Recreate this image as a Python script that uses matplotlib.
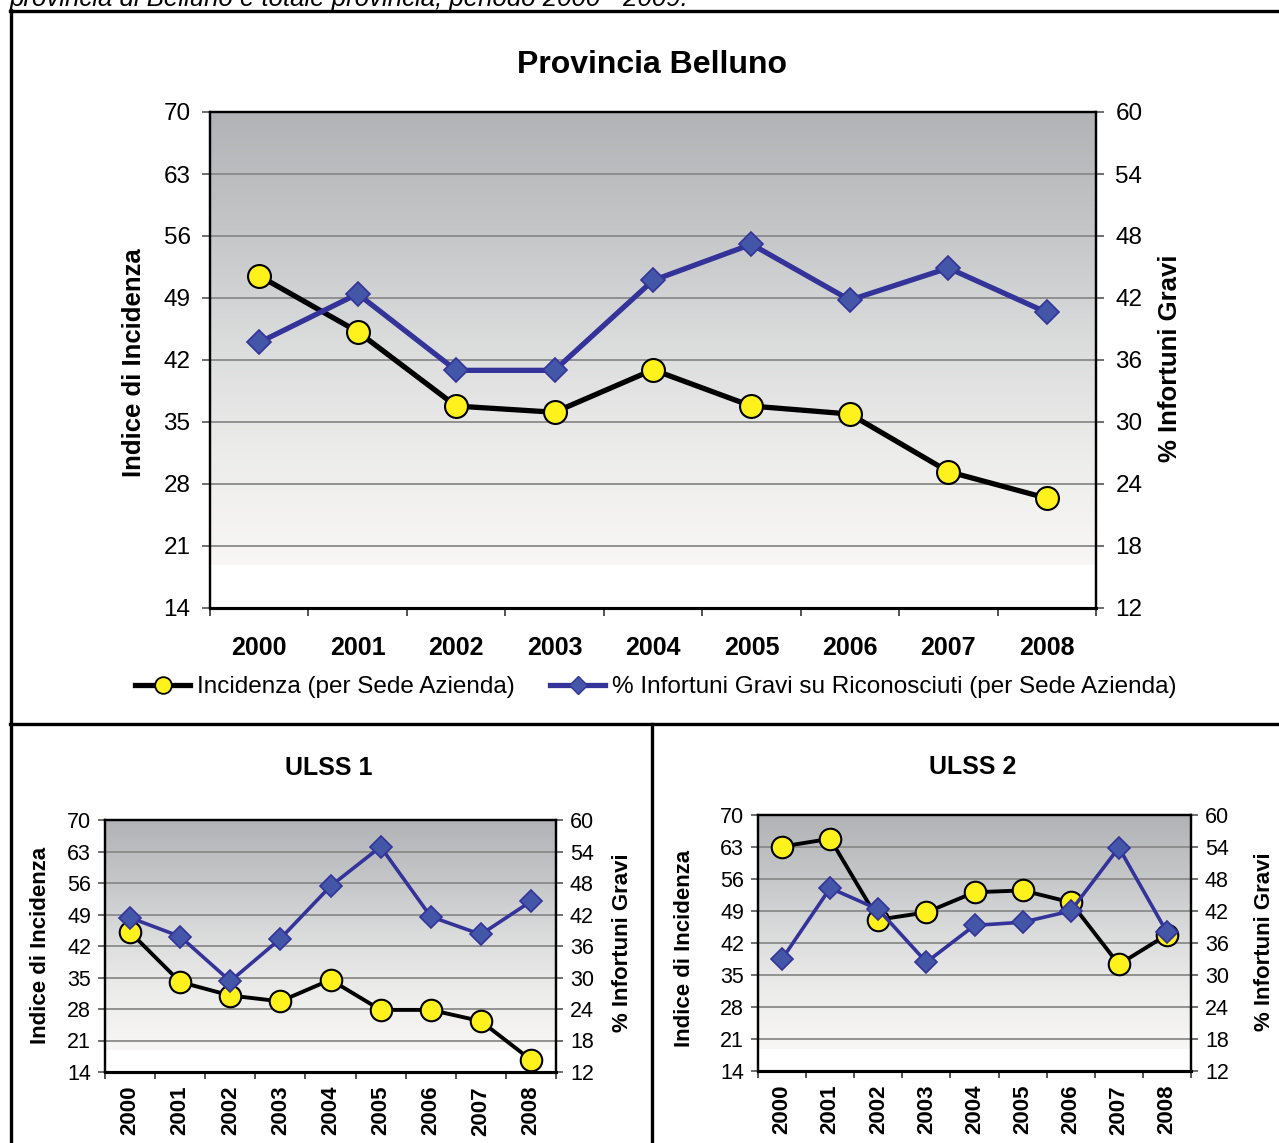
import numpy as np
import matplotlib
matplotlib.use('Agg')
import matplotlib.pyplot as plt
from matplotlib.colors import LinearSegmentedColormap
from matplotlib.lines import Line2D

# ---------------- data ----------------
years = ['2000', '2001', '2002', '2003', '2004', '2005', '2006', '2007', '2008']

prov_incidenza = [51.5, 45.2, 36.8, 36.1, 40.9, 36.8, 35.9, 29.4, 26.4]
prov_gravi = [37.7, 42.4, 35.0, 35.0, 43.7, 47.2, 41.8, 44.9, 40.6]

ulss1_incidenza = [45.1, 34.0, 31.0, 29.7, 34.5, 27.8, 27.8, 25.3, 16.7]
ulss1_gravi = [41.4, 37.8, 29.3, 37.4, 47.4, 54.9, 41.6, 38.2, 44.5]

ulss2_incidenza = [63.1, 64.8, 47.1, 48.7, 53.1, 53.5, 50.9, 37.3, 43.8]
ulss2_gravi = [33.0, 46.3, 42.3, 32.4, 39.3, 39.9, 42.0, 53.9, 38.0]

left_ticks = [14, 21, 28, 35, 42, 49, 56, 63, 70]
right_ticks = [12, 18, 24, 30, 36, 42, 48, 54, 60]

label_incid = 'Incidenza (per Sede Azienda)'
label_gravi = '% Infortuni Gravi su Riconosciuti (per Sede Azienda)'

# ---------------- style ----------------
plt.rcParams['font.family'] = ['Liberation Sans', 'DejaVu Sans']

W, H = 1279, 1143
fig = plt.figure(figsize=(W / 100, H / 100), dpi=100)

def px(x0, y0, x1, y1):
    return [x0 / W, 1 - y1 / H, (x1 - x0) / W, (y1 - y0) / H]

cmap = LinearSegmentedColormap.from_list(
    'bg', ['#b1b3b6', '#c4c5c7', '#dadbdb', '#ececeb', '#f8f7f6'])

YEL = '#fff21c'
BLUE_LINE = '#333399'
BLUE_FILL = '#4356a8'


def panel(rect, incid, gravi, tick_fs, year_fs, ms_c, ms_d, lw_k, lw_b,
          rotate, ypad, xpad, ticklen):
    ax = fig.add_axes(rect)
    n = len(years)
    ax.set_xlim(-0.5, n - 0.5)
    ax.set_ylim(left_ticks[0], left_ticks[-1])
    grad = np.linspace(0, 1, 256).reshape(-1, 1)
    ax.imshow(grad, cmap=cmap, aspect='auto', origin='upper',
              extent=[-0.5, n - 0.5, 18.9, 70], zorder=0, interpolation='bilinear')
    ax.set_yticks(left_ticks)
    ax.yaxis.grid(True, color='#8a8a8a', lw=1.3)
    ax.set_xticks(np.arange(-0.5, n, 1))
    ax.set_xticklabels([])
    ax.set_xticks(np.arange(n), minor=True)
    ax.set_xticklabels(years, minor=True, fontweight='bold', fontsize=year_fs,
                       rotation=90 if rotate else 0)
    ax.tick_params(axis='x', which='minor', length=0, pad=xpad)
    ax.tick_params(axis='x', which='major', length=ticklen, width=1.2, color='#333333',
                   direction='out')
    ax.tick_params(axis='y', labelsize=tick_fs, length=ticklen, width=1.2,
                   color='#555555', pad=ypad)
    ax.plot(range(n), incid, color='black', lw=lw_k, marker='o', ms=ms_c,
            mfc=YEL, mec='black', mew=1.5, zorder=3, solid_joinstyle='round')

    ax2 = ax.twinx()
    ax2.set_ylim(right_ticks[0], right_ticks[-1])
    ax2.set_yticks(right_ticks)
    ax2.tick_params(axis='y', labelsize=tick_fs, length=ticklen, width=1.2,
                    color='#555555', pad=ypad)
    ax2.plot(range(n), gravi, color=BLUE_LINE, lw=lw_b, marker='D', ms=ms_d,
             mfc=BLUE_FILL, mec=BLUE_LINE, mew=1.2, zorder=3)
    for a in (ax, ax2):
        for s in a.spines.values():
            s.set_color('black')
            s.set_linewidth(1.6)
        a.spines['bottom'].set_linewidth(2.2)
    return ax, ax2

# --- top panel
ax, ax2 = panel(px(210, 112, 1096, 608), prov_incidenza, prov_gravi,
                tick_fs=17.5, year_fs=18, ms_c=16.5, ms_d=12.5,
                lw_k=3.8, lw_b=3.8, rotate=False, ypad=8, xpad=20.5, ticklen=6)
fig.text(652 / W, 1 - 65 / H, 'Provincia Belluno', ha='center', va='center',
         fontsize=23, fontweight='bold')
fig.text(134 / W, 1 - 363 / H, 'Indice di Incidenza', rotation=90, ha='center',
         va='center', fontsize=18.5, fontweight='bold')
fig.text(1170 / W, 1 - 358 / H, '% Infortuni Gravi', rotation=90, ha='center',
         va='center', fontsize=18.5, fontweight='bold')

h1 = Line2D([], [], color='black', lw=3.8, marker='o', ms=12, mfc=YEL, mec='black',
            mew=1.3)
h2 = Line2D([], [], color=BLUE_LINE, lw=3.8, marker='D', ms=9.5, mfc=BLUE_FILL,
            mec=BLUE_LINE, mew=1.0)
fig.legend([h1, h2], [label_incid, label_gravi], loc='center',
           bbox_to_anchor=(656 / W, 1 - 687 / H), ncol=2, frameon=False,
           fontsize=17.5, handlelength=2.26, handletextpad=0.3, columnspacing=1.44,
           borderpad=0, borderaxespad=0)

# --- ULSS 1
b1, b1r = panel(px(105, 820, 556, 1072), ulss1_incidenza, ulss1_gravi,
                tick_fs=15.5, year_fs=16, ms_c=15.5, ms_d=11.5,
                lw_k=2.8, lw_b=2.6, rotate=True, ypad=5, xpad=10, ticklen=5)
fig.text(329 / W, 1 - 768 / H, 'ULSS 1', ha='center', va='center',
         fontsize=18, fontweight='bold')
fig.text(41 / W, 1 - 945 / H, 'Indice di Incidenza', rotation=90, ha='center',
         va='center', fontsize=16, fontweight='bold')
fig.text(622 / W, 1 - 943 / H, '% Infortuni Gravi', rotation=90, ha='center',
         va='center', fontsize=16, fontweight='bold')

# --- ULSS 2
b2, b2r = panel(px(758, 815, 1191, 1071), ulss2_incidenza, ulss2_gravi,
                tick_fs=15.5, year_fs=16, ms_c=15.5, ms_d=11.5,
                lw_k=2.8, lw_b=2.6, rotate=True, ypad=5, xpad=10, ticklen=5)
fig.text(973 / W, 1 - 767 / H, 'ULSS 2', ha='center', va='center',
         fontsize=18, fontweight='bold')
fig.text(684 / W, 1 - 948 / H, 'Indice di Incidenza', rotation=90, ha='center',
         va='center', fontsize=16, fontweight='bold')
fig.text(1264 / W, 1 - 942 / H, '% Infortuni Gravi', rotation=90, ha='center',
         va='center', fontsize=16, fontweight='bold')

# --- caption (cut at top, as in the original) and frames
fig.text(10 / W, 1 - 6 / H, 'provincia di Belluno e totale provincia, periodo 2000 - 2009.',
         ha='left', va='baseline', fontsize=18.5, style='italic')

def hline(x0, x1, y):
    fig.add_artist(Line2D([x0 / W, x1 / W], [1 - y / H, 1 - y / H], color='black',
                          lw=2.4, transform=fig.transFigure))

def vline(x, y0, y1):
    fig.add_artist(Line2D([x / W, x / W], [1 - y0 / H, 1 - y1 / H], color='black',
                          lw=2.4, transform=fig.transFigure))

hline(10, W + 5, 11)
vline(11, 10, H + 5)
hline(10, W + 5, 724)
vline(652, 724, H + 5)

fig.savefig('out.png', dpi=100)
